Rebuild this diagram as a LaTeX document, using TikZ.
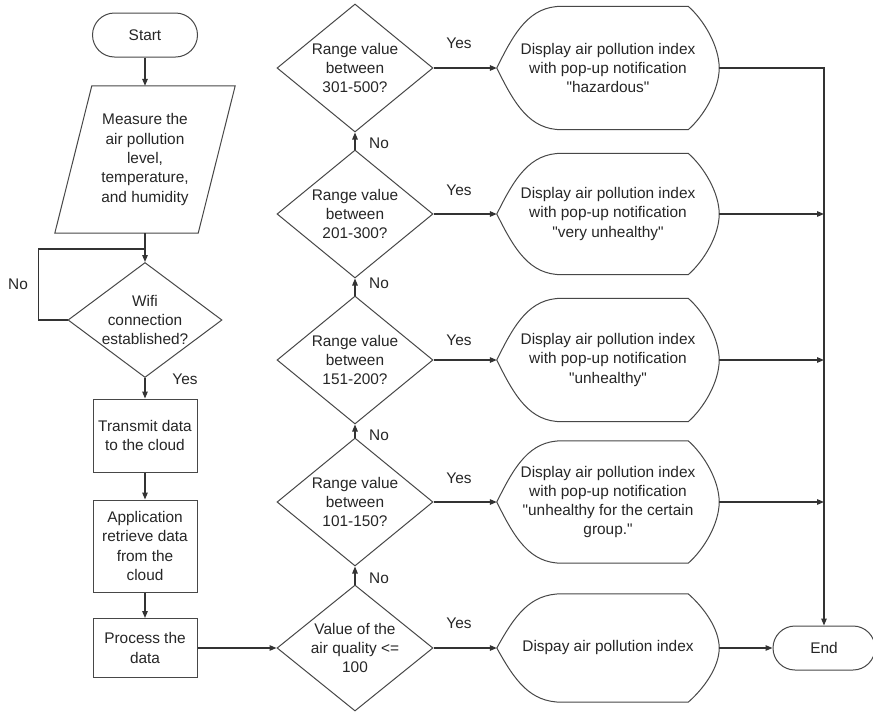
\documentclass[tikz,border=0pt]{standalone}
\usepackage{fontspec}
\setmainfont{Liberation Sans}[Ligatures=TeXOff]
\usetikzlibrary{shapes.geometric,arrows.meta,calc}

\newcommand{\dispnode}[4]{%
  \node[disptext, minimum height=2*#3] (#1) at (608,#2) {#4};
  \draw[outl] (#1.west)
    .. controls ($(#1.west)+(18,-0.6*#3)$) and ($(#1.north west)+(33,0)$) .. ($(#1.north west)+(65,0)$)
    -- ($(#1.north east)+(-31,0)$)
    .. controls ($(#1.north east)+(-15,14)$) and ($(#1.east)+(0,-0.35*#3)$) .. (#1.east)
    .. controls ($(#1.east)+(0,0.35*#3)$) and ($(#1.south east)+(-15,-14)$) .. ($(#1.south east)+(-31,0)$)
    -- ($(#1.south west)+(65,0)$)
    .. controls ($(#1.south west)+(33,0)$) and ($(#1.west)+(18,0.6*#3)$) .. (#1.west) -- cycle;
}

\begin{document}
\begin{tikzpicture}[x=1pt,y=-1pt,
  every node/.style={font=\fontsize{15.4}{19.3}\selectfont, text=black!85},
  outl/.style={draw=black!72, line width=1pt},
  conn/.style={draw=black!80, line width=1.3pt},
  arr/.style={conn, -{Triangle[length=7pt,width=5.5pt]}},
  termbox/.style={outl, rectangle, rounded corners=22pt, minimum width=105pt, minimum height=44pt},
  procbox/.style={outl, rectangle, minimum width=104pt, align=center, inner sep=0pt},
  decis/.style={outl, diamond, minimum width=156pt, minimum height=128pt, inner sep=0pt},
  lbl/.style={align=center, inner sep=0pt},
  disptext/.style={rectangle, minimum width=222pt, align=center, inner sep=0pt},
]
\path[fill=white, use as bounding box] (0,0) rectangle (873,713);

% left column
\node[termbox] (st) at (145,35) {Start};
\node[rectangle, minimum width=180pt, minimum height=147pt, align=center, inner sep=0pt] (p) at (145,159.5)
  {Measure the\\air pollution\\level,\\temperature,\\and humidity};
\draw[outl] ($(p.north west)+(37,0)$) -- (p.north east) -- ($(p.south east)+(-37,0)$) -- (p.south west) -- cycle;

\node[outl, diamond, minimum width=154pt, minimum height=115pt, inner sep=0pt] (w) at (145,320) {};
\node[lbl] (wt) at (145,320) {Wifi\\connection\\established?};
\coordinate (jn) at (145,249);

\node[procbox, minimum height=73pt] (t1) at (145,435.5) {Transmit data\\to the cloud};
\node[procbox, minimum height=92pt] (a1) at (145,546) {Application\\retrieve data\\from the\\cloud};
\node[procbox, minimum height=59pt] (pr) at (145,648) {Process the\\data};

\node[lbl] (no0) at (18,284) {No};
\node[lbl] (yes0) at (185,379) {Yes};

% decisions
\node[decis, minimum height=126pt] (q0) at (355,648) {};
\node[lbl] (q0t) at (355,648) {Value of the\\air quality <=\\100};
\node[decis] (q1) at (355,502) {};
\node[lbl] (q1t) at (355,502) {Range value\\between\\101-150?};
\node[decis] (q2) at (355,360) {};
\node[lbl] (q2t) at (355,360) {Range value\\between\\151-200?};
\node[decis] (q3) at (355,214) {};
\node[lbl] (q3t) at (355,214) {Range value\\between\\201-300?};
\node[decis] (q4) at (355,68) {};
\node[lbl] (q4t) at (355,68) {Range value\\between\\301-500?};

\node[lbl] (n1) at (379,578) {No};
\node[lbl] (n2) at (379,435) {No};
\node[lbl] (n3) at (379,283) {No};
\node[lbl] (n4) at (379,143) {No};

\node[lbl] (y0) at (459,623) {Yes};
\node[lbl] (y1) at (459,478) {Yes};
\node[lbl] (y2) at (459,340) {Yes};
\node[lbl] (y3) at (459,190) {Yes};
\node[lbl] (y4) at (459,43) {Yes};

% displays
\dispnode{d0}{648}{54}{Dispay air pollution index}
\dispnode{d1}{502}{61}{Display air pollution index\\with pop-up notification\\"unhealthy for the certain\\group."}
\dispnode{d2}{360}{61.5}{Display air pollution index\\with pop-up notification\\"unhealthy"}
\dispnode{d3}{214}{60.5}{Display air pollution index\\with pop-up notification\\"very unhealthy"}
\dispnode{d4}{68}{61.5}{Display air pollution index\\with pop-up notification\\"hazardous"}

\node[termbox, minimum width=102pt] (e) at (824,648) {End};

% connectors
\draw[arr] (st) -- (p.north);
\draw[arr] (p.south) -- (w.north);
\draw[conn] (w.west) -- ++(-29,0) |- (jn);
\draw[arr] (w.south) -- (t1.north);
\draw[arr] (t1) -- (a1);
\draw[arr] (a1) -- (pr);
\draw[arr] (pr.east) -- (q0.west);
\draw[arr] (q0.north) -- (q1.south);
\draw[arr] (q1.north) -- (q2.south);
\draw[arr] (q2.north) -- (q3.south);
\draw[arr] (q3.north) -- (q4.south);
\draw[arr] (q0.east) -- (d0.west);
\draw[arr] (q1.east) -- (d1.west);
\draw[arr] (q2.east) -- (d2.west);
\draw[arr] (q3.east) -- (d3.west);
\draw[arr] (q4.east) -- (d4.west);
\draw[arr] (d4.east) -| (e.north);
\draw[arr] (d3.east) -- (d3.east -| e.north);
\draw[arr] (d2.east) -- (d2.east -| e.north);
\draw[arr] (d1.east) -- (d1.east -| e.north);
\draw[arr] (d0.east) -- (e.west);
\end{tikzpicture}
\end{document}
